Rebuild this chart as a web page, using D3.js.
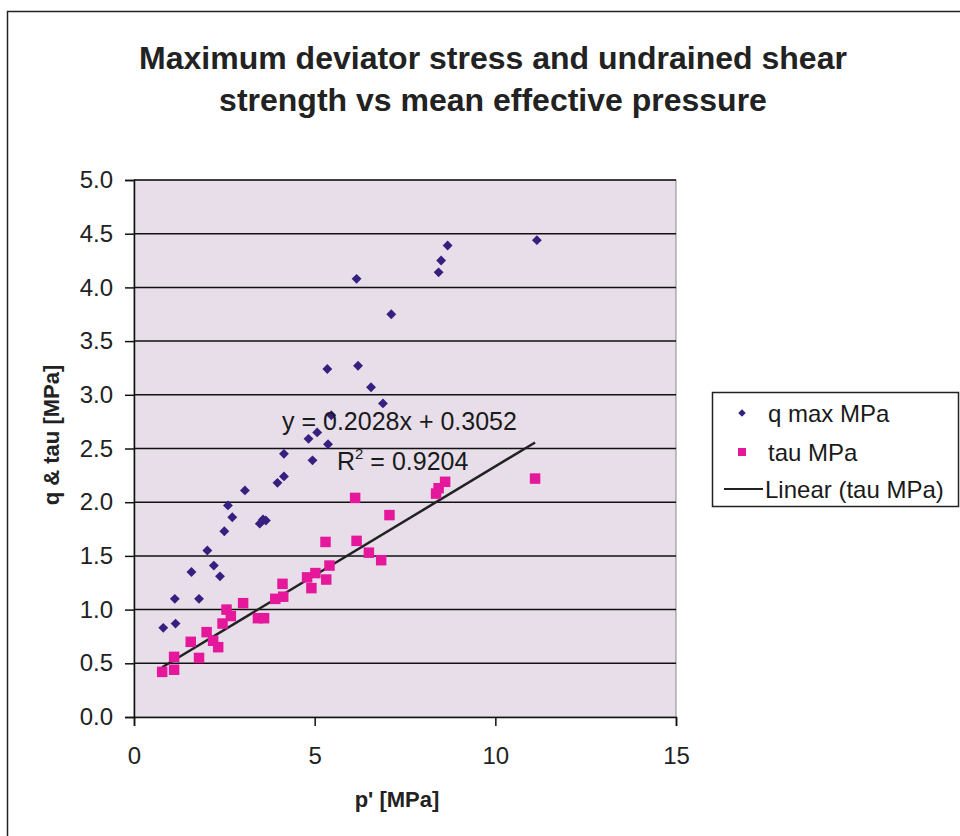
<!DOCTYPE html>
<html>
<head>
<meta charset="utf-8">
<script src="https://cdn.jsdelivr.net/npm/d3@7"></script>
<style>
  body { margin: 0; background: #fff; }
  svg { font-family: "Liberation Sans", Arial, sans-serif; }
</style>
</head>
<body>
<div id="chart"></div>
<script>
// data
var qP   = [0.81,1.15,1.13,1.80,1.59,2.38,2.21,2.03,2.50,2.72,2.60,3.07,3.48,3.57,3.65,3.97,4.15,4.15,4.94,4.83,5.07,5.37,5.46,6.89,6.56,6.20,5.35,7.12,6.16,8.43,8.50,8.68,11.15]
var qMax = [0.83,0.87,1.10,1.10,1.35,1.31,1.41,1.55,1.73,1.86,1.97,2.11,1.80,1.84,1.83,2.18,2.24,2.45,2.39,2.59,2.65,2.54,2.81,2.92,3.07,3.27,3.24,3.75,4.08,4.14,4.25,4.39,4.44]

var tauP = [0.78,1.11,1.11,1.80,1.57,2.19,2.33,2.01,2.45,2.68,2.56,3.02,3.43,3.60,3.91,4.13,4.11,4.91,5.32,4.79,5.02,5.41,6.84,6.50,6.16,5.30,7.07,6.12,8.36,8.43,8.61,11.10]
var tau  = [0.42,0.44,0.56,0.55,0.70,0.71,0.65,0.79,0.87,0.94,1.00,1.06,0.92,0.92,1.10,1.12,1.24,1.20,1.28,1.30,1.34,1.41,1.46,1.53,1.64,1.63,1.88,2.04,2.08,2.13,2.19,2.22]

var fitSlope = 0.2028, fitIntercept = 0.3052, fitR2 = 0.9204
var xTicks = [0, 5, 10, 15]
var yTicks = [0,0.5,1,1.5,2,2.5,3,3.5,4,4.5,5]
var seriesNames = ["q max MPa", "tau MPa", "Linear (tau MPa)"]

var W = 960, H = 836
var svg = d3.select("#chart").append("svg").attr("width", W).attr("height", H)

// outer frame (right/bottom run off the page)
svg.append("path").attr("d", "M7.5,840 L7.5,11.5 L970,11.5")
  .attr("fill", "none").attr("stroke", "#222").attr("stroke-width", 1.5)

var x = d3.scaleLinear().domain([0, 15]).range([134, 676])
var y = d3.scaleLinear().domain([0, 5]).range([717, 180])

// title
svg.append("text").attr("x", 493).attr("y", 69).attr("text-anchor", "middle")
  .attr("font-size", 32).attr("font-weight", "bold").attr("fill", "#222")
  .text("Maximum deviator stress and undrained shear")
svg.append("text").attr("x", 493).attr("y", 111).attr("text-anchor", "middle")
  .attr("font-size", 32).attr("font-weight", "bold").attr("fill", "#222")
  .text("strength vs mean effective pressure")

// plot area
svg.append("rect").attr("x", x(0)).attr("y", y(5)).attr("width", x(15) - x(0)).attr("height", y(0) - y(5))
  .attr("fill", "#e7deea").attr("stroke", "#888").attr("stroke-width", 1)

svg.append("g").selectAll("line").data(yTicks.filter(d => d > 0)).join("line")
  .attr("x1", x(0)).attr("x2", x(15)).attr("y1", d => y(d)).attr("y2", d => y(d))
  .attr("stroke", "#111").attr("stroke-width", 1.5)

// axes
var yAxis = svg.append("g").attr("transform", "translate(" + x(0) + ",0)")
  .call(d3.axisLeft(y).tickValues(yTicks).tickFormat(d3.format(".1f")).tickSize(9).tickPadding(12))
var xAxis = svg.append("g").attr("transform", "translate(0," + y(0) + ")")
  .call(d3.axisBottom(x).tickValues(xTicks).tickSize(9).tickPadding(21))
;[xAxis, yAxis].forEach(function(a) {
  a.select(".domain").attr("stroke", "#111").attr("stroke-width", 1.5)
  a.selectAll(".tick line").attr("stroke", "#111").attr("stroke-width", 1.5)
  a.selectAll("text").attr("font-size", 24).attr("fill", "#222")
    .attr("font-family", "Liberation Sans, Arial, sans-serif")
})

// axis titles
svg.append("text").attr("x", 397).attr("y", 807).attr("text-anchor", "middle")
  .attr("font-size", 22).attr("font-weight", "bold").attr("fill", "#222").text("p' [MPa]")
svg.append("text").attr("transform", "translate(59,435) rotate(-90)").attr("text-anchor", "middle")
  .attr("font-size", 22).attr("font-weight", "bold").attr("fill", "#222").text("q & tau [MPa]")

// trend line
var x0 = d3.min(tauP), x1 = d3.max(tauP)
svg.append("line")
  .attr("x1", x(x0)).attr("y1", y(fitSlope * x0 + fitIntercept))
  .attr("x2", x(x1)).attr("y2", y(fitSlope * x1 + fitIntercept))
  .attr("stroke", "#222").attr("stroke-width", 2.5)

var diamond = d3.symbol().type(d3.symbolDiamond2).size(62)
var square = d3.symbol().type(d3.symbolSquare).size(110)

svg.append("g").selectAll("path").data(tauP).join("path")
  .attr("transform", (d, i) => "translate(" + x(d) + "," + y(tau[i]) + ")")
  .attr("d", square).attr("fill", "#e5179b")

svg.append("g").selectAll("path").data(qP).join("path")
  .attr("transform", (d, i) => "translate(" + x(d) + "," + y(qMax[i]) + ")")
  .attr("d", diamond).attr("fill", "#35207f")

// equation label
svg.append("text").attr("x", 282).attr("y", 430).attr("font-size", 25).attr("fill", "#1a1a1a")
  .text("y = " + fitSlope + "x + " + fitIntercept)
var r2 = svg.append("text").attr("x", 337).attr("y", 470).attr("font-size", 25).attr("fill", "#1a1a1a")
r2.append("tspan").text("R")
r2.append("tspan").attr("dy", -11).attr("font-size", 15).text("2")
r2.append("tspan").attr("dy", 11).text(" = " + fitR2)

// legend
var lg = svg.append("g").attr("transform", "translate(712,392)")
lg.append("rect").attr("x", 0.5).attr("y", 0.5).attr("width", 246).attr("height", 114)
  .attr("fill", "#fff").attr("stroke", "#222").attr("stroke-width", 1.5)
var rows = [21, 60, 97]
lg.append("path").attr("transform", "translate(30," + rows[0] + ")").attr("d", d3.symbol().type(d3.symbolDiamond2).size(36)).attr("fill", "#35207f")
lg.append("path").attr("transform", "translate(30," + rows[1] + ")").attr("d", d3.symbol().type(d3.symbolSquare).size(64)).attr("fill", "#e5179b")
lg.append("line").attr("x1", 12).attr("x2", 51).attr("y1", rows[2]).attr("y2", rows[2]).attr("stroke", "#222").attr("stroke-width", 2)
lg.selectAll("text.lbl").data(seriesNames).join("text").attr("class", "lbl")
  .attr("x", (d, i) => i < 2 ? 56 : 53).attr("y", (d, i) => rows[i] + 9)
  .attr("font-size", 24).attr("fill", "#1a1a1a").text(d => d)
</script>
</body>
</html>
